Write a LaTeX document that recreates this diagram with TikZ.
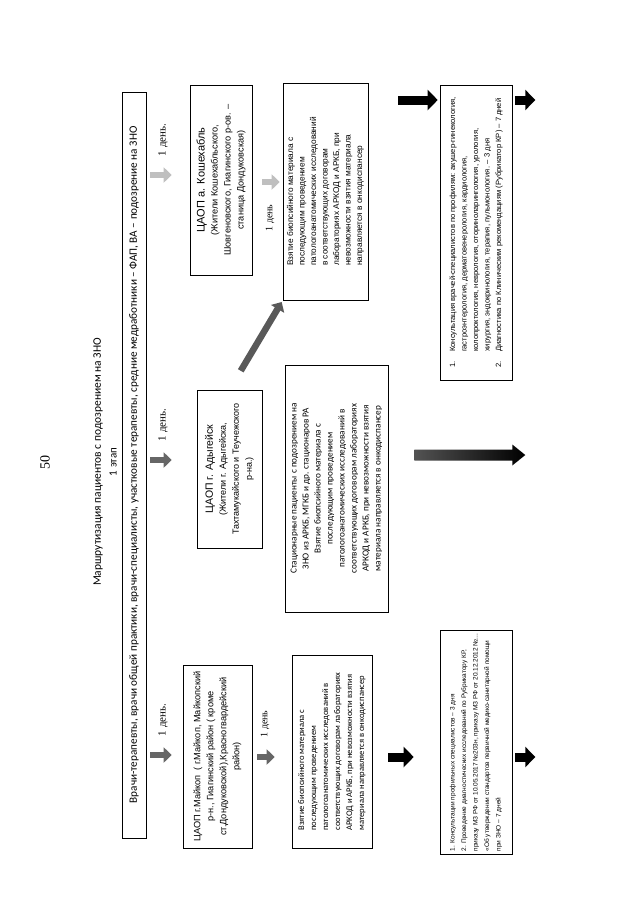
\documentclass[tikz,border=0pt]{standalone}
\usepackage{fontspec}
\setmainfont{Liberation Sans}
\newfontfamily\calfont{Carlito}
\newfontfamily\serfont{Liberation Serif}
\usetikzlibrary{arrows.meta}

\tikzset{
  box/.style={draw, line width=0.6pt, rotate=90, inner sep=3pt},
  lbl/.style={rotate=90, inner sep=0pt},
  dayarr/.style={line width=6.5pt, -{Triangle[length=8pt,width=15pt]}},
  blkarr/.style={line width=9pt, -{Triangle[length=10pt,width=20pt]}},
}

\begin{document}
\begin{tikzpicture}[x=1pt,y=-1pt]
\useasboundingbox (0,0) rectangle (640,903);

% header
\node[lbl, font=\serfont\fontsize{14}{14}\selectfont] (pagenum) at (45,462) {50};
\node[lbl, font=\calfont\fontsize{11.5}{13}\selectfont] (title) at (98,462) {Маршрутизация пациентов с подозрением на ЗНО};
\node[lbl, font=\calfont\fontsize{11}{13}\selectfont] (stage) at (113,462) {1 этап};

\node[box, minimum width=746, minimum height=24, font=\calfont\fontsize{11.2}{13}\selectfont] (top) at (134,465)
  {Врачи-терапевты, врачи общей практики, врачи-специалисты, участковые терапевты, средние медработники – ФАП, ВА – подозрение на ЗНО};

% ЦАОП
\node[box, minimum width=183, minimum height=69, align=center, font=\fontsize{9.2}{13}\selectfont] (maikop) at (217.5,756.5)
  {ЦАОП г.Майкоп\enspace( г.Майкоп, Майкопский\\ р-н., Гиагинский район ( кроме\\ ст.Дондуковской),Красногвардейский\\ район)};
\node[box, minimum width=158, minimum height=65, align=center, font=\fontsize{9}{13}\selectfont] (adyg) at (229.5,469)
  {{\fontsize{10.5}{13}\selectfont ЦАОП г. Адыгейск}\\ (Жители г. Адыгейска,\\ Тахтамукайского и Теучежского\\ р-на.)};
\node[box, minimum width=190, minimum height=62, align=center, font=\fontsize{9.2}{13}\selectfont] (kosh) at (221,180)
  {{\fontsize{11}{13}\selectfont ЦАОП а. Кошехабль}\\ (Жители Кошехабльского,\\ Шовгеновского, Гиагинского р-ов. –\\ станица Дондуковская)};

% биопсия
\node[box, minimum width=193, minimum height=80, align=left, font=\calfont\fontsize{8.6}{12}\selectfont] (bioL) at (332,751.5)
  {Взятие биопсийного материала с\\ последующим проведением\\ патологоанатомических исследований в\\ соответствующих договорам лабораториях\\ АРКОД и АРКБ, при невозможности взятия\\ материала направляется в онкодиспансер};
\node[box, minimum width=247, minimum height=103, align=center, font=\calfont\fontsize{9.2}{12}\selectfont] (stat) at (336.5,488.5)
  {Стационарные пациенты с подозрением на\\ ЗНО из АРКБ, МГКБ и др. стационаров РА\\ Взятие биопсийного материала с\\ последующим проведением\\ патологоанатомических исследований в\\ соответствующих договорам лабораториях\\ АРКОД и АРКБ, при невозможности взятия\\ материала направляется в онкодиспансер};
\node[box, minimum width=217, minimum height=85, align=left, font=\fontsize{8.3}{11.5}\selectfont] (bioR) at (325.5,191.5)
  {Взятие биопсийного материала с\\ последующим проведением\\ патологоанатомических исследований\\ в соответствующих договорам\\ лабораториях АРКОД и АРКБ, при\\ невозможности взятия материала\\ направляется в онкодиспансер};

% консультации
\node[box, minimum width=205, minimum height=72, align=left, font=\fontsize{6.5}{11.5}\selectfont] (consL) at (476,742.5)
  {1. Консультации профильных специалистов – 3 дня\\ 2. Проведение диагностических исследований по Рубрикатору КР,\\ приказу МЗ РФ от 10.05.2017 №203н, приказу МЗ РФ от 20.12.2012 №...\\ «Об утверждении стандартов первичной медико-санитарной помощи\\ при ЗНО – 7 дней};
\node[box, minimum width=295, minimum height=72, align=left, font=\fontsize{7.6}{11.5}\selectfont] (consR) at (476,232.5)
  {\makebox[16pt][l]{1.}Консультация врачей-специалистов по профилям: акушер-гинекология,\\ \hspace*{16pt}гастроэнтерология, дерматовенерология, кардиология,\\ \hspace*{16pt}колопроктология, неврология, оториноларингология, урология,\\ \hspace*{16pt}хирургия, эндокринология, терапия, пульмонология. – 3 дня\\ \makebox[16pt][l]{2.}Диагностика по Клиническим рекомендациям (Рубрикатор КР) – 7 дней};

% стрелки 1 день
\draw[dayarr, gray!80!black, shorten <=4pt, shorten >=11pt] (top.south |- 0,755) -- (maikop.north |- 0,755);
\draw[dayarr, gray!80!black, shorten <=4pt, shorten >=25pt] (top.south |- 0,460) -- (adyg.north |- 0,460);
\draw[dayarr, gray!50, shorten <=4pt, shorten >=18pt] (top.south |- 0,175) -- (kosh.north |- 0,175);
\node[lbl, font=\serfont\fontsize{11}{12}\selectfont] (dayA) at (163,720) {1 день.};
\node[lbl, font=\serfont\fontsize{11}{12}\selectfont] (dayB) at (163,425) {1 день.};
\node[lbl, font=\serfont\fontsize{11}{12}\selectfont] (dayC) at (163,140) {1 день.};

\draw[dayarr, gray!80!black, shorten <=5pt, shorten >=17pt] (maikop.south |- 0,757) -- (bioL.north |- 0,757);
\node[lbl, font=\serfont\fontsize{10}{12}\selectfont] (dayD) at (265,724) {1 день};
\draw[dayarr, gray!50, shorten <=10pt, shorten >=3pt] (kosh.south |- 0,182) -- (bioR.north |- 0,182);
\node[lbl, font=\serfont\fontsize{10}{12}\selectfont] (dayE) at (270,218) {1 день};
\draw[dayarr, gray!70!black, shorten <=22pt, shorten >=2pt] (adyg.east) -- (bioR.north west);

% чёрные стрелки
\draw[blkarr, shorten <=16pt, shorten >=26pt] (bioL.south |- 0,757) -- (consL.north |- 0,757);
\draw[blkarr, shorten <=30pt, shorten >=2pt] (bioR.south |- 0,100) -- (consR.north |- 0,100);
\draw[blkarr, shorten <=3pt, shorten >=-22pt] (consL.south |- 0,757) -- +(1,0);
\draw[blkarr, shorten <=3pt, shorten >=-22pt] (consR.south |- 0,100) -- +(1,0);

% длинная стрелка из стационара
\coordinate (ltail) at ([xshift=26pt]stat.south |- 0,455);
\shade[left color=gray!65!black, right color=black] (ltail) ++(0,-5.5) -- ++(98,0) -- ++(0,-5) -- ++(13,10.5) -- ++(-13,10.5) -- ++(0,-5) -- ++(-98,0) -- cycle;
\end{tikzpicture}
\end{document}
